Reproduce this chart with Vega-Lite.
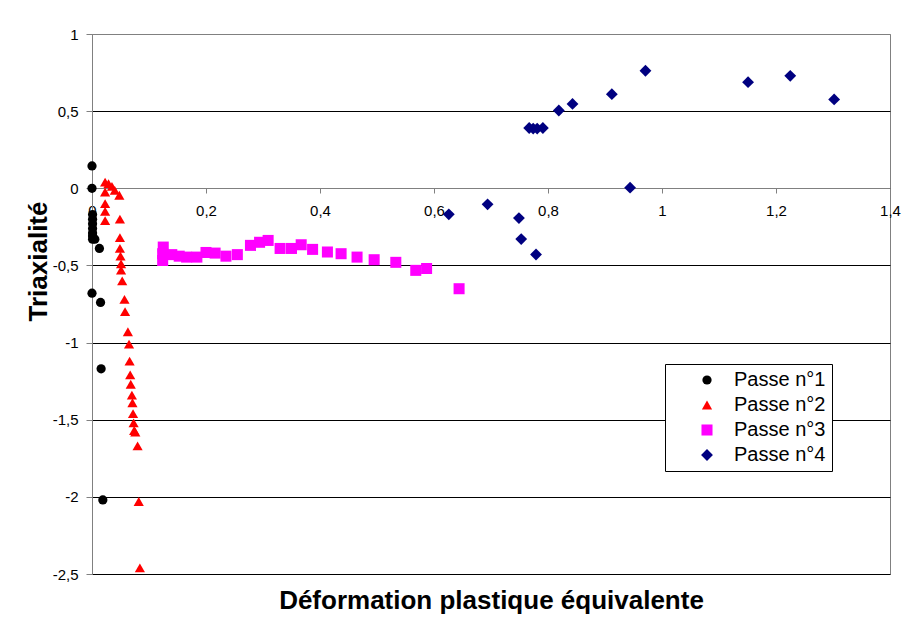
{
  "$schema": "https://vega.github.io/schema/vega-lite/v6.json",
  "width": 798,
  "height": 540,
  "autosize": {"type": "none"},
  "padding": {"left": 92, "top": 34, "right": 25, "bottom": 51},
  "background": "white",
  "data": {
    "values": [
      {"x": 0, "y": 0.145, "serie": "Passe n°1"},
      {"x": 0, "y": 0.0, "serie": "Passe n°1"},
      {"x": 0.001, "y": -0.17, "serie": "Passe n°1"},
      {"x": 0.001, "y": -0.2, "serie": "Passe n°1"},
      {"x": 0.001, "y": -0.23, "serie": "Passe n°1"},
      {"x": 0.001, "y": -0.26, "serie": "Passe n°1"},
      {"x": 0.001, "y": -0.29, "serie": "Passe n°1"},
      {"x": 0.001, "y": -0.31, "serie": "Passe n°1"},
      {"x": 0.001, "y": -0.33, "serie": "Passe n°1"},
      {"x": 0.005, "y": -0.33, "serie": "Passe n°1"},
      {"x": 0.013, "y": -0.39, "serie": "Passe n°1"},
      {"x": 0, "y": -0.68, "serie": "Passe n°1"},
      {"x": 0.015, "y": -0.74, "serie": "Passe n°1"},
      {"x": 0.016, "y": -1.17, "serie": "Passe n°1"},
      {"x": 0.019, "y": -2.02, "serie": "Passe n°1"},

      {"x": 0.023, "y": 0.04, "serie": "Passe n°2"},
      {"x": 0.029, "y": 0.03, "serie": "Passe n°2"},
      {"x": 0.035, "y": 0.013, "serie": "Passe n°2"},
      {"x": 0.04, "y": -0.013, "serie": "Passe n°2"},
      {"x": 0.048, "y": -0.045, "serie": "Passe n°2"},
      {"x": 0.023, "y": -0.024, "serie": "Passe n°2"},
      {"x": 0.023, "y": -0.1, "serie": "Passe n°2"},
      {"x": 0.023, "y": -0.15, "serie": "Passe n°2"},
      {"x": 0.023, "y": -0.21, "serie": "Passe n°2"},
      {"x": 0.049, "y": -0.2, "serie": "Passe n°2"},
      {"x": 0.049, "y": -0.32, "serie": "Passe n°2"},
      {"x": 0.049, "y": -0.39, "serie": "Passe n°2"},
      {"x": 0.05, "y": -0.44, "serie": "Passe n°2"},
      {"x": 0.051, "y": -0.49, "serie": "Passe n°2"},
      {"x": 0.051, "y": -0.53, "serie": "Passe n°2"},
      {"x": 0.053, "y": -0.6, "serie": "Passe n°2"},
      {"x": 0.057, "y": -0.72, "serie": "Passe n°2"},
      {"x": 0.058, "y": -0.8, "serie": "Passe n°2"},
      {"x": 0.063, "y": -0.93, "serie": "Passe n°2"},
      {"x": 0.065, "y": -1.01, "serie": "Passe n°2"},
      {"x": 0.066, "y": -1.12, "serie": "Passe n°2"},
      {"x": 0.067, "y": -1.21, "serie": "Passe n°2"},
      {"x": 0.068, "y": -1.27, "serie": "Passe n°2"},
      {"x": 0.07, "y": -1.34, "serie": "Passe n°2"},
      {"x": 0.071, "y": -1.39, "serie": "Passe n°2"},
      {"x": 0.072, "y": -1.46, "serie": "Passe n°2"},
      {"x": 0.073, "y": -1.52, "serie": "Passe n°2"},
      {"x": 0.074, "y": -1.57, "serie": "Passe n°2"},
      {"x": 0.076, "y": -1.58, "serie": "Passe n°2"},
      {"x": 0.08, "y": -1.67, "serie": "Passe n°2"},
      {"x": 0.082, "y": -2.03, "serie": "Passe n°2"},
      {"x": 0.084, "y": -2.46, "serie": "Passe n°2"},

      {"x": 0.125, "y": -0.381, "serie": "Passe n°3"},
      {"x": 0.124, "y": -0.424, "serie": "Passe n°3"},
      {"x": 0.124, "y": -0.468, "serie": "Passe n°3"},
      {"x": 0.14, "y": -0.43, "serie": "Passe n°3"},
      {"x": 0.153, "y": -0.44, "serie": "Passe n°3"},
      {"x": 0.166, "y": -0.446, "serie": "Passe n°3"},
      {"x": 0.184, "y": -0.446, "serie": "Passe n°3"},
      {"x": 0.2, "y": -0.416, "serie": "Passe n°3"},
      {"x": 0.216, "y": -0.42, "serie": "Passe n°3"},
      {"x": 0.235, "y": -0.44, "serie": "Passe n°3"},
      {"x": 0.255, "y": -0.43, "serie": "Passe n°3"},
      {"x": 0.278, "y": -0.37, "serie": "Passe n°3"},
      {"x": 0.294, "y": -0.35, "serie": "Passe n°3"},
      {"x": 0.309, "y": -0.338, "serie": "Passe n°3"},
      {"x": 0.33, "y": -0.39, "serie": "Passe n°3"},
      {"x": 0.35, "y": -0.39, "serie": "Passe n°3"},
      {"x": 0.367, "y": -0.366, "serie": "Passe n°3"},
      {"x": 0.387, "y": -0.396, "serie": "Passe n°3"},
      {"x": 0.413, "y": -0.413, "serie": "Passe n°3"},
      {"x": 0.437, "y": -0.424, "serie": "Passe n°3"},
      {"x": 0.465, "y": -0.446, "serie": "Passe n°3"},
      {"x": 0.495, "y": -0.463, "serie": "Passe n°3"},
      {"x": 0.533, "y": -0.48, "serie": "Passe n°3"},
      {"x": 0.568, "y": -0.532, "serie": "Passe n°3"},
      {"x": 0.587, "y": -0.52, "serie": "Passe n°3"},
      {"x": 0.644, "y": -0.651, "serie": "Passe n°3"},

      {"x": 0.626, "y": -0.169, "serie": "Passe n°4"},
      {"x": 0.694, "y": -0.104, "serie": "Passe n°4"},
      {"x": 0.749, "y": -0.193, "serie": "Passe n°4"},
      {"x": 0.753, "y": -0.329, "serie": "Passe n°4"},
      {"x": 0.779, "y": -0.429, "serie": "Passe n°4"},
      {"x": 0.767, "y": 0.391, "serie": "Passe n°4"},
      {"x": 0.774, "y": 0.387, "serie": "Passe n°4"},
      {"x": 0.781, "y": 0.387, "serie": "Passe n°4"},
      {"x": 0.791, "y": 0.391, "serie": "Passe n°4"},
      {"x": 0.819, "y": 0.504, "serie": "Passe n°4"},
      {"x": 0.843, "y": 0.547, "serie": "Passe n°4"},
      {"x": 0.912, "y": 0.61, "serie": "Passe n°4"},
      {"x": 0.944, "y": 0.004, "serie": "Passe n°4"},
      {"x": 0.971, "y": 0.762, "serie": "Passe n°4"},
      {"x": 1.151, "y": 0.688, "serie": "Passe n°4"},
      {"x": 1.225, "y": 0.729, "serie": "Passe n°4"},
      {"x": 1.302, "y": 0.576, "serie": "Passe n°4"}
    ]
  },
  "mark": {"type": "point", "filled": true, "opacity": 1},
  "encoding": {
    "x": {
      "field": "x",
      "type": "quantitative",
      "scale": {"domain": [0, 1.4], "nice": false, "zero": false},
      "axis": {
        "values": [0, 0.2, 0.4, 0.6, 0.8, 1, 1.2, 1.4],
        "labelExpr": "replace(datum.value + '', '.', ',')",
        "offset": -386,
        "grid": false,
        "labelFlush": false,
        "labelOverlap": false,
        "domainColor": "#808080",
        "tickColor": "#808080",
        "tickSize": 5,
        "labelPadding": 10,
        "labelFontSize": 15,
        "labelFont": "Liberation Sans",
        "labelColor": "black",
        "title": "Déformation plastique équivalente",
        "titleFont": "Liberation Sans",
        "titleFontSize": 26,
        "titleFontWeight": "bold",
        "titleColor": "black",
        "titleX": 399,
        "titleY": 412,
        "titleBaseline": "middle",
        "titleAlign": "center"
      }
    },
    "y": {
      "field": "y",
      "type": "quantitative",
      "scale": {"domain": [-2.5, 1], "nice": false, "zero": false},
      "axis": {
        "values": [-2.5, -2, -1.5, -1, -0.5, 0, 0.5, 1],
        "labelExpr": "replace(datum.value + '', '.', ',')",
        "grid": true,
        "gridColor": {"condition": {"test": "datum.value === 1", "value": "#808080"}, "value": "black"},
        "gridWidth": 1,
        "domainColor": "#808080",
        "tickColor": "#808080",
        "tickSize": 6,
        "labelPadding": 8,
        "labelFontSize": 15,
        "labelFont": "Liberation Sans",
        "labelColor": "black",
        "title": "Triaxialité",
        "titleFont": "Liberation Sans",
        "titleFontSize": 26,
        "titleFontWeight": "bold",
        "titleColor": "black",
        "titleX": -54,
        "titleY": 227,
        "titleBaseline": "middle",
        "titleAlign": "center",
        "titleAngle": -90
      }
    },
    "size": {
      "field": "serie",
      "type": "nominal",
      "scale": {
        "domain": ["Passe n°1", "Passe n°2", "Passe n°3", "Passe n°4"],
        "range": [85, 140, 95, 125]
      },
      "legend": null
    },
    "color": {
      "field": "serie",
      "type": "nominal",
      "scale": {
        "domain": ["Passe n°1", "Passe n°2", "Passe n°3", "Passe n°4"],
        "range": ["#000000", "#FF0000", "#FF00FF", "#000080"]
      },
      "legend": {
        "title": null,
        "orient": "none",
        "legendX": 573,
        "legendY": 330,
        "direction": "vertical",
        "fillColor": "white",
        "strokeColor": "black",
        "padding": 6,
        "rowPadding": 5,
        "symbolOffset": 26,
        "symbolSize": 70,
        "labelOffset": 17,
        "labelFontSize": 20,
        "labelFont": "Liberation Sans",
        "labelColor": "black",
        "labelExpr": "datum.label + '\u00a0\u00a0\u00a0'",
        "labelLimit": 400
      }
    },
    "shape": {
      "field": "serie",
      "type": "nominal",
      "scale": {
        "domain": ["Passe n°1", "Passe n°2", "Passe n°3", "Passe n°4"],
        "range": ["circle", "triangle-up", "square", "diamond"]
      },
      "legend": {
        "title": null,
        "orient": "none",
        "legendX": 573,
        "legendY": 330,
        "direction": "vertical",
        "fillColor": "white",
        "strokeColor": "black",
        "padding": 6,
        "rowPadding": 5,
        "symbolOffset": 26,
        "symbolSize": 70,
        "labelOffset": 17,
        "labelFontSize": 20,
        "labelFont": "Liberation Sans",
        "labelColor": "black",
        "labelExpr": "datum.label + '\u00a0\u00a0\u00a0'",
        "labelLimit": 400
      }
    }
  },
  "config": {
    "view": {"stroke": "#808080", "strokeWidth": 1},
    "font": "Liberation Sans"
  }
}
